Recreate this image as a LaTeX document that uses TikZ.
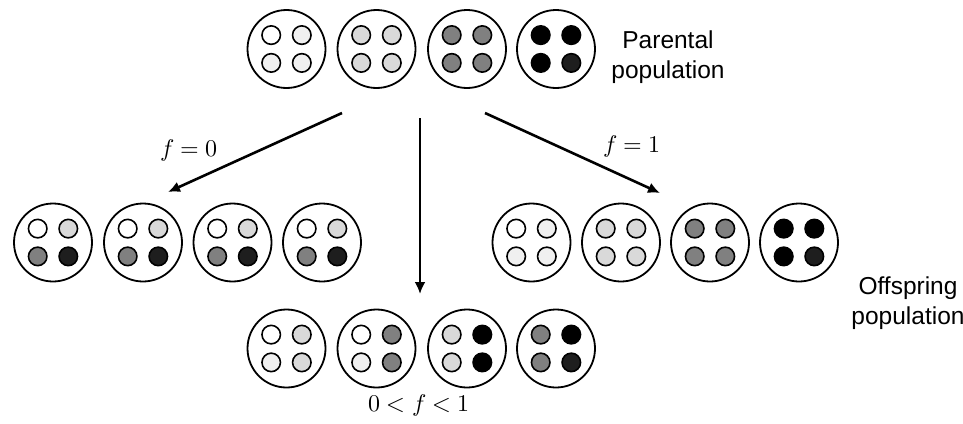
\documentclass[tikz,border=0pt]{standalone}
\usepackage{fontspec}
\setmainfont{Liberation Sans}
\usepackage{unicode-math}
\setmathfont{Latin Modern Math}
\usetikzlibrary{arrows.meta}
\definecolor{cA}{HTML}{FFFFFF}
\definecolor{cB}{HTML}{F0F0F0}
\definecolor{cC}{HTML}{D9D9D9}
\definecolor{cD}{HTML}{808080}
\definecolor{cE}{HTML}{000000}
\definecolor{cF}{HTML}{1E1E1E}
\tikzset{
  bigcell/.style={circle, draw=black, line width=1.8pt, minimum size=78pt, inner sep=0pt, fill=white},
  dot/.style={circle, draw=black, line width=1.6pt, minimum size=18.5pt, inner sep=0pt},
  arr/.style={line width=2.6pt, -{Latex[length=12pt,width=11pt]}},
  poplabel/.style={font=\fontsize{24.5}{30}\selectfont, align=center},
  mathlabel/.style={font=\fontsize{24}{28}\selectfont},
}
\newcommand{\mycell}[7]{%
  \node[bigcell] (#1) at (#2,#3) {};
  \node[dot, fill=#4] (#1-a) at ([shift={(-15.3,-13.9)}]#1.center) {};
  \node[dot, fill=#5] (#1-b) at ([shift={(15.3,-13.9)}]#1.center) {};
  \node[dot, fill=#6] (#1-c) at ([shift={(-15.3,13.9)}]#1.center) {};
  \node[dot, fill=#7] (#1-d) at ([shift={(15.3,13.9)}]#1.center) {};
}
\begin{document}
\begin{tikzpicture}[x=1pt, y=-1pt]
\useasboundingbox (0,0) rectangle (963,423);
% parental
\mycell{p1}{286.5}{49}{cA}{cB}{cB}{cB}
\mycell{p2}{376.5}{49}{cC}{cC}{cC}{cC}
\mycell{p3}{467}{49}{cD}{cD}{cD}{cD}
\mycell{p4}{556}{49}{cE}{cE}{cE}{cF}
\node[poplabel] (ptext) at (668,57) {Parental\\population};
% left offspring
\mycell{l1}{53}{242.5}{cA}{cC}{cD}{cF}
\mycell{l2}{143}{242.5}{cA}{cC}{cD}{cF}
\mycell{l3}{232.5}{242.5}{cA}{cC}{cD}{cF}
\mycell{l4}{322}{242.5}{cA}{cC}{cD}{cF}
% right offspring
\mycell{r1}{531.5}{242.5}{cA}{cB}{cB}{cB}
\mycell{r2}{621}{242.5}{cC}{cC}{cC}{cC}
\mycell{r3}{710}{242.5}{cD}{cD}{cD}{cD}
\mycell{r4}{799}{242.5}{cE}{cE}{cE}{cF}
% bottom offspring
\mycell{b1}{286.5}{348.5}{cA}{cC}{cB}{cC}
\mycell{b2}{376.5}{348.5}{cA}{cD}{cB}{cD}
\mycell{b3}{467}{348.5}{cC}{cE}{cC}{cE}
\mycell{b4}{556}{348.5}{cD}{cE}{cD}{cF}
\node[poplabel] (otext) at (908,303) {Offspring\\population};
% arrows
\coordinate (s1) at (342,113);
\coordinate (e1) at (168,192);
\coordinate (s2) at (420,118);
\coordinate (e2) at (420,294);
\coordinate (s3) at (485,113);
\coordinate (e3) at (660,193);
\draw[arr] (s1) -- (e1);
\draw[arr] (s2) -- (e2);
\draw[arr] (s3) -- (e3);
\node[mathlabel] (f0) at (189,150) {$f=0$};
\node[mathlabel] (f1) at (632,146) {$f=1$};
\node[mathlabel] (fm) at (419,405) {$0<f<1$};
\end{tikzpicture}
\end{document}
